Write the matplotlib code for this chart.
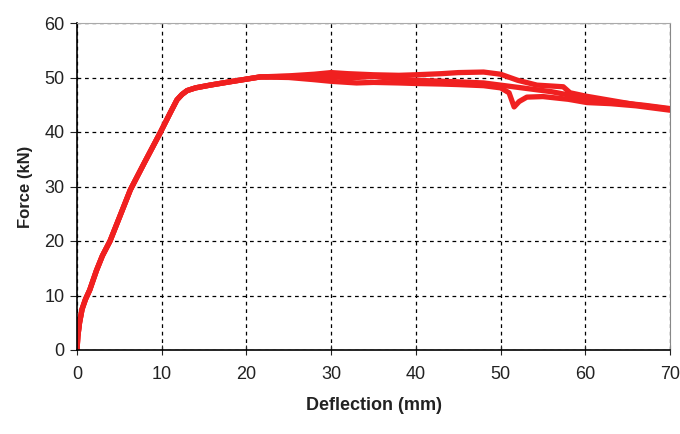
import matplotlib
matplotlib.use('Agg')
import matplotlib.pyplot as plt

# Force-deflection readings for three specimens (mm, kN)
x_rise = [0, 0.1, 0.3, 0.6, 1.0, 1.5, 2.3, 3.0, 3.9, 5.0, 6.3, 8.0, 9.8, 11.0, 11.8, 12.4, 13.0, 14.0, 15.7, 18.0, 21.6]
y_rise = [0, 2.5, 5.0, 7.5, 9.3, 11.0, 14.6, 17.3, 20.0, 24.3, 29.4, 34.5, 39.8, 43.5, 45.9, 46.9, 47.6, 48.1, 48.6, 49.2, 50.1]

x_a = [25, 28, 30, 32, 35, 38, 40, 43, 45, 48, 50, 52, 54.3, 57.4, 58.2, 60, 63, 66, 70]
y_a = [50.3, 50.6, 50.9, 50.7, 50.5, 50.4, 50.5, 50.7, 50.9, 51.0, 50.6, 49.5, 48.6, 48.3, 47.2, 46.6, 45.8, 45.0, 44.2]

x_b = [25, 28, 30, 33, 35, 38, 40, 43, 45, 48, 50, 51, 51.6, 52.2, 53.1, 55, 58, 60.2, 63, 66, 70]
y_b = [50.0, 49.6, 49.3, 49.0, 49.1, 49.0, 48.9, 48.8, 48.7, 48.5, 48.1, 47.2, 44.6, 45.6, 46.4, 46.5, 46.0, 45.4, 45.2, 44.8, 44.0]

x_c = [25, 28, 30, 32, 35, 38, 40, 45, 48, 50, 53, 56, 58, 60, 64, 67, 70]
y_c = [50.2, 50.1, 50.2, 49.9, 50.2, 49.7, 49.5, 49.2, 49.0, 48.6, 48.0, 47.4, 46.8, 46.3, 45.4, 44.9, 44.3]

x_ticks = [0, 10, 20, 30, 40, 50, 60, 70]
y_ticks = [0, 10, 20, 30, 40, 50, 60]

plt.rcParams['font.family'] = ['Liberation Sans Narrow', 'Liberation Sans', 'DejaVu Sans']

fig = plt.figure(figsize=(6.8, 4.34), dpi=100)
ax = fig.add_axes([77 / 680, 1 - 350 / 434, (670 - 77) / 680, (350 - 23) / 434])

red = '#f02020'
for xs, ys in [(x_a, y_a), (x_b, y_b), (x_c, y_c)]:
    ax.plot(x_rise + xs, y_rise + ys, color=red, lw=3.8, solid_joinstyle='round')

ax.set_xlim(0, 70)
ax.set_ylim(0, 60)
ax.set_xticks(x_ticks)
ax.set_yticks(y_ticks)
ax.grid(True, color='black', linestyle=(0, (3, 3)), lw=0.9)
ax.tick_params(axis='x', direction='inout', length=7, labelsize=13, pad=8, colors='#222222')
ax.tick_params(axis='y', direction='out', length=5, labelsize=13, pad=4, colors='#222222')
for s in ['left', 'bottom']:
    ax.spines[s].set_color('black')
    ax.spines[s].set_linewidth(1.2)
ax.spines['top'].set_color('#aaaaaa')
ax.spines['right'].set_color('#888888')

ax.set_xlabel('Deflection (mm)', fontsize=13, fontweight='bold', labelpad=10, color='#222222')
ax.set_ylabel('Force (kN)', fontsize=12, fontweight='bold', labelpad=8, color='#222222',
              family=['Liberation Sans', 'DejaVu Sans'])

fig.savefig('out.png', dpi=100)
